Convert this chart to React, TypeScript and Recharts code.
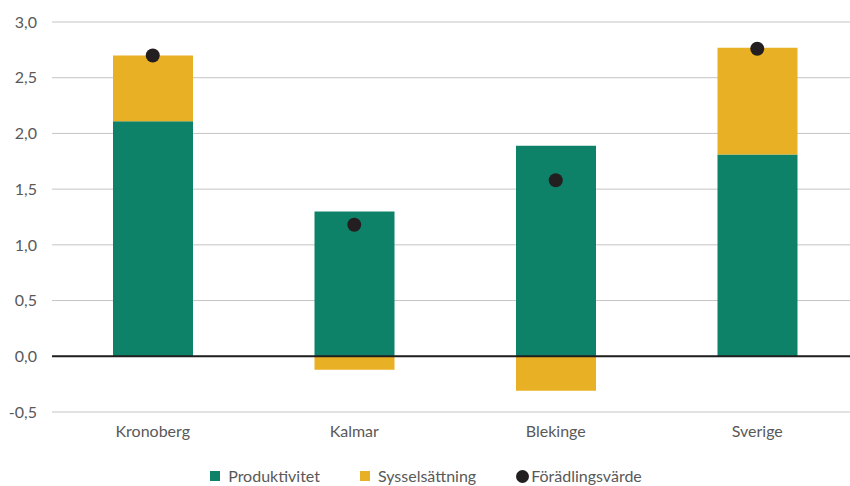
import React from 'react'
import { ComposedChart, Bar, Scatter, XAxis, YAxis, CartesianGrid, ReferenceLine, Legend } from 'recharts'

const regions = ['Kronoberg', 'Kalmar', 'Blekinge', 'Sverige']
const produktivitet = [2.11, 1.3, 1.89, 1.81]
const sysselsattning = [0.59, -0.12, -0.31, 0.96]
const foradlingsvarde = [2.7, 1.18, 1.58, 2.76]
const yTicks = [-0.5, 0, 0.5, 1, 1.5, 2, 2.5, 3]

const GREEN = '#0e8268'
const YELLOW = '#e8b025'
const DOT = '#231f20'
const TEXT = '#595959'
const FONT = 'Lato, sans-serif'

const data = regions.map((r, i) => ({
  region: r,
  prod: produktivitet[i],
  syss: sysselsattning[i],
  ford: foradlingsvarde[i],
}))

const fmt = (v: number) => v.toFixed(1).replace('.', ',')

function LegendContent() {
  const item: React.CSSProperties = { display: 'flex', alignItems: 'center', fontFamily: FONT, fontSize: 16, color: TEXT, lineHeight: '18px' }
  return (
    <div style={{ display: 'flex', justifyContent: 'center', gap: 40, height: 18, alignItems: 'center', paddingRight: 6 }}>
      <div style={item}><span style={{ width: 10, height: 10, background: GREEN, marginRight: 8 }} />Produktivitet</div>
      <div style={item}><span style={{ width: 10, height: 10, background: YELLOW, marginRight: 8 }} />Sysselsättning</div>
      <div style={item}><span style={{ width: 13, height: 13, borderRadius: '50%', background: DOT, marginRight: 2 }} />Förädlingsvärde</div>
    </div>
  )
}

export default function App() {
  return (
    <div style={{ position: 'absolute', top: 0, left: 0, width: 850, height: 486, overflow: 'hidden', background: '#fff' }}>
      <ComposedChart width={858} height={486} data={data} stackOffset="sign"
        margin={{ top: 22, right: 0, left: 0, bottom: 0 }}>
        <CartesianGrid vertical={false} stroke="#c4c4c4" />
        <XAxis dataKey="region" axisLine={false} tickLine={false} height={56} tickMargin={8}
          tick={{ fontFamily: FONT, fontSize: 16, fill: TEXT }} />
        <YAxis domain={[-0.5, 3]} ticks={yTicks} width={52} axisLine={false} tickLine={false}
          tickFormatter={fmt} tickMargin={9} interval={0}
          tick={{ fontFamily: FONT, fontSize: 16, fill: TEXT }} />
        <Bar dataKey="prod" stackId="a" fill={GREEN} barSize={80} isAnimationActive={false} />
        <Bar dataKey="syss" stackId="a" fill={YELLOW} barSize={80} isAnimationActive={false} />
        <ReferenceLine y={0} stroke="#1f1f1f" strokeWidth={2} />
        <Scatter dataKey="ford" fill={DOT} isAnimationActive={false}
          shape={(p: any) => <circle cx={p.cx} cy={p.cy} r={7} fill={DOT} />} />
        <Legend verticalAlign="bottom" content={() => <LegendContent />}
          wrapperStyle={{ top: 467, bottom: 'auto', left: 0, width: 858 }} />
      </ComposedChart>
    </div>
  )
}
